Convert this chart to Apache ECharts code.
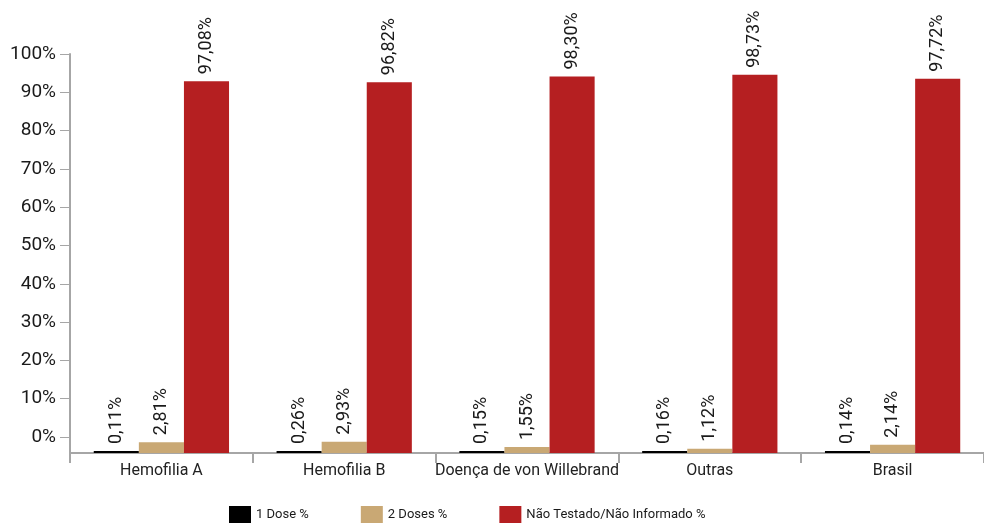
<!DOCTYPE html>
<html>
<head>
<meta charset="utf-8">
<script src="https://cdn.jsdelivr.net/npm/echarts@6/dist/echarts.min.js"></script>
<style>
    html, body {margin: 0; padding: 0; background: #fff;}
    #chart {width: 984px; height: 523px;}
</style>
</head>
<body>
<div id="chart"></div>
<script>
var categories = ['Hemofilia A', 'Hemofilia B', 'Doença de von Willebrand', 'Outras', 'Brasil'];
var seriesNames = ['1 Dose %', '2 Doses %', 'Não Testado/Não Informado %'];
var oneDose = [0.11, 0.26, 0.15, 0.16, 0.14];
var twoDoses = [2.81, 2.93, 1.55, 1.12, 2.14];
var notTested = [97.08, 96.82, 98.30, 98.73, 97.72];
var yTickLabels = ['0%', '10%', '20%', '30%', '40%', '50%', '60%', '70%', '80%', '90%', '100%'];

var colors = ['#000000', '#C9A874', '#B51F21'];
var fontName = 'Roboto, "Noto Sans", sans-serif';
var axisGray = '#A6A6A6';

var valueLabel = {
    show: true,
    position: 'top',
    rotate: 90,
    align: 'left',
    verticalAlign: 'middle',
    distance: 7,
    fontFamily: fontName,
    fontSize: 18,
    color: '#1a1a1a',
    formatter: function(p){
        return p.value.toFixed(2).replace('.', ',') + '%';
    }
};

function makeBar(name, data, color, extra){
    var s = {
        name: name,
        type: 'bar',
        xAxisIndex: 0,
        yAxisIndex: 0,
        data: data,
        barGap: '0%',
        barCategoryGap: '26%',
        itemStyle: {color: color},
        label: valueLabel
    };
    if (extra) for (var k in extra) s[k] = extra[k];
    return s;
}

var chart = echarts.init(document.getElementById('chart'), null, {renderer: 'canvas'});

var option = {
    animation: false,
    color: colors,
    textStyle: {fontFamily: fontName},
    legend: {
        data: seriesNames,
        left: 229,
        top: 506,
        padding: 0,
        itemWidth: 22,
        itemHeight: 18,
        itemGap: 52,
        icon: 'rect',
        textStyle: {fontSize: 13, color: '#1a1a1a', fontFamily: fontName}
    },
    // grid 0 holds the bars, grid 1 only carries the (shifted) percentage labels
    grid: [
        {left: 70, top: 70, width: 924, height: 383},
        {left: 70, top: 54, width: 924, height: 383}
    ],
    xAxis: [
        {
            type: 'category',
            gridIndex: 0,
            data: categories,
            axisLine: {lineStyle: {color: axisGray, width: 2}},
            axisTick: {show: true, length: 10, interval: 0, lineStyle: {color: axisGray, width: 2}},
            axisLabel: {interval: 0, margin: 10, fontSize: 16, color: '#222', fontFamily: fontName}
        },
        {
            type: 'category',
            gridIndex: 1,
            data: categories,
            show: false
        }
    ],
    yAxis: [
        {
            type: 'value',
            gridIndex: 0,
            min: 0,
            max: 100,
            interval: 10,
            axisLine: {show: true, onZero: false, lineStyle: {color: axisGray, width: 2}},
            axisTick: {show: false},
            axisLabel: {show: false},
            splitLine: {show: false}
        },
        {
            type: 'value',
            gridIndex: 1,
            min: 0,
            max: 100,
            interval: 10,
            axisLine: {show: true, onZero: false, lineStyle: {color: axisGray, width: 2}},
            axisTick: {show: true, length: 10, lineStyle: {color: axisGray, width: 1}},
            axisLabel: {
                margin: 14,
                fontSize: 19,
                color: '#1a1a1a',
                fontFamily: fontName,
                formatter: function(value){
                    return yTickLabels[Math.round(value / 10)];
                }
            },
            splitLine: {show: false}
        }
    ],
    series: [
        makeBar(seriesNames[0], oneDose, colors[0], {barMinHeight: 2}),
        makeBar(seriesNames[1], twoDoses, colors[1]),
        makeBar(seriesNames[2], notTested, colors[2])
    ]
};

chart.setOption(option);
</script>
</body>
</html>
